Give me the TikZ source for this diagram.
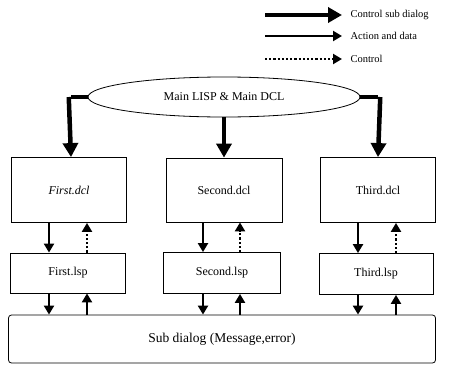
\documentclass[tikz,border=0pt]{standalone}
\usepackage{fontspec}
\setmainfont{Liberation Serif}
\usetikzlibrary{arrows.meta,shapes.geometric}
\tikzset{
  box/.style={draw, line width=0.8pt, inner sep=0pt, font=\fontsize{12}{14}\selectfont},
  bigflow/.style={line width=4.5pt, -{Triangle[length=14pt,width=15pt]}},
  flow/.style={line width=2.2pt, -{Triangle[length=9pt,width=10pt]}},
  ctrl/.style={line width=2.2pt, dotted, -{Triangle[length=9pt,width=10pt]}},
  bigline/.style={line width=4.5pt},
  legtext/.style={anchor=west, font=\fontsize{10.5}{12}\selectfont},
}
\begin{document}
\begin{tikzpicture}[x=1pt,y=-1pt]
\useasboundingbox (0,0) rectangle (449,364);

% legend
\coordinate (l1a) at (265,15);  \coordinate (l1b) at (342,15);
\coordinate (l2a) at (265,36);  \coordinate (l2b) at (342,36);
\coordinate (l3a) at (265,59);  \coordinate (l3b) at (342,59);
\draw[bigflow] (l1a) -- (l1b);
\draw[flow] (l2a) -- (l2b);
\draw[ctrl] (l3a) -- (l3b);
\node[legtext] (t1) at (347,15) {Control sub dialog};
\node[legtext] (t2) at (347,36) {Action and data};
\node[legtext] (t3) at (347,59) {Control};

% main ellipse
\node[draw, ellipse, line width=0.8pt, minimum width=272pt, minimum height=40pt,
      inner sep=0pt, font=\fontsize{12}{14}\selectfont] (main) at (224,97) {Main LISP \& Main DCL};

% dcl boxes
\node[box, minimum width=115pt, minimum height=65pt] (d1) at (69,190) {\itshape First.dcl};
\node[box, minimum width=116pt, minimum height=64pt] (d2) at (224,190) {Second.dcl};
\node[box, minimum width=115pt, minimum height=65pt] (d3) at (378,190) {Third.dcl};

% lsp boxes
\node[box, minimum width=115pt, minimum height=40pt] (p1) at (68,273) {First.lsp};
\node[box, minimum width=117pt, minimum height=41pt] (p2) at (222,273) {Second.lsp};
\node[box, minimum width=114pt, minimum height=41pt] (p3) at (376,274) {Third.lsp};

% sub dialog
\node[box, rounded corners=3pt, minimum width=427pt, minimum height=48pt,
      font=\fontsize{13.5}{15}\selectfont] (sub) at (222,339) {Sub dialog (Message,error)};

% thick connectors from main
\coordinate (c1) at (71,97);
\coordinate (c3) at (378,97);
\draw[bigline] (main.west) -- (c1);
\draw[bigflow] ([xshift=-2.25pt]c1) -- (c1 |- d1.north);
\draw[bigline] (main.east) -- (c3);
\draw[bigflow] ([xshift=2.25pt]c3) -- (c3 |- d3.north);
\draw[bigflow] (main.south) -- (main.south |- d2.north);

% dcl <-> lsp <-> sub dialog
\foreach \i/\xa/\xb in {1/49/87, 2/203/240, 3/358/396}{
  \coordinate (xa\i) at (\xa,0);
  \coordinate (xb\i) at (\xb,0);
  \draw[flow] (xa\i |- d\i.south) -- (xa\i |- p\i.north);
  \draw[ctrl] (xb\i |- p\i.north) -- (xb\i |- d\i.south);
  \draw[flow] (xa\i |- p\i.south) -- (xa\i |- sub.north);
  \draw[flow] (xb\i |- sub.north) -- (xb\i |- p\i.south);
}
\end{tikzpicture}
\end{document}
